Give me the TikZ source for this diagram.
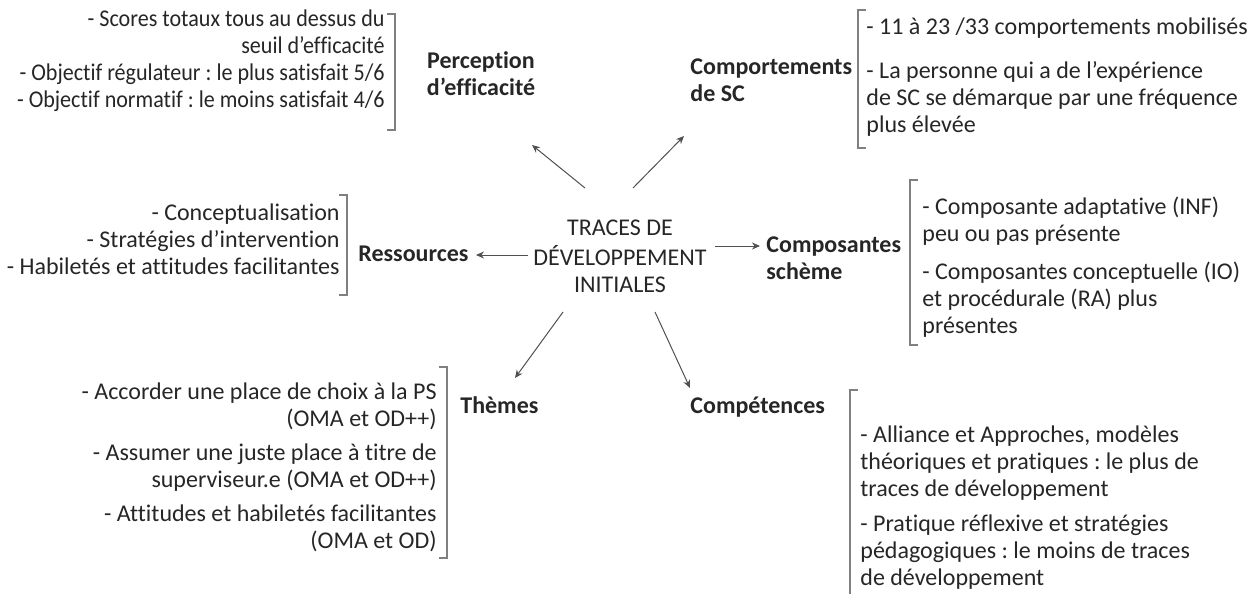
\documentclass[tikz,border=0pt]{standalone}
\usepackage{fontspec}
\setmainfont{Carlito}[Ligatures=NoCommon]
\usepackage{tikz}
\usetikzlibrary{arrows.meta, positioning, calc}
\usepackage{xcolor}
\definecolor{inkgray}{HTML}{262626}
\definecolor{linegray}{HTML}{505050}
\definecolor{bracketgray}{HTML}{808080}
\frenchspacing
\tikzset{
  txt/.style={inner sep=0pt, text=inkgray, font=\fontsize{12}{13.5}\selectfont},
  lbl/.style={txt, font=\fontsize{12}{13.5}\selectfont\bfseries},
  link/.style={draw=linegray, line width=0.5pt, -{Stealth[length=4pt,width=3.5pt]}},
  brk/.style={draw=bracketgray, line width=0.6pt},
}

\begin{document}
\begin{tikzpicture}[x=0.5pt, y=-0.5pt]
\useasboundingbox (0,0) rectangle (1260,594);

% centre
\node[txt, align=center, anchor=north] (centre) at (620,216) {\strut TRACES DE\\DÉVELOPPEMENT\\INITIALES};

% labels
\node[lbl, align=center, anchor=north] (perc) at (481,49) {\strut Perception\\d’efficacité};
\node[lbl, align=left, anchor=north west] (compo) at (690,55) {\strut Comportements\\de SC};
\node[lbl, anchor=base west] (ress) at (358,261) {Ressources};
\node[lbl, align=left, anchor=north west] (schem) at (766,233) {\strut Composantes\\schème};
\node[lbl, anchor=base west] (themes) at (460,413) {Thèmes};
\node[lbl, anchor=base west] (compet) at (690,413) {Compétences};

% details
\node[txt, align=right, anchor=north east, font=\fontsize{12}{13.5}\selectfont\addfontfeatures{FakeStretch=0.92}] (perc-txt) at (385,7) {\strut - Scores totaux tous au dessus du\\seuil d’efficacité\\- Objectif régulateur : le plus satisfait 5/6\\- Objectif normatif : le moins satisfait 4/6};
\node[txt, align=left, anchor=north west] (compo-txt) at (866,15) {\strut - 11 à 23 /33 comportements mobilisés\\[8.5pt]- La personne qui a de l’expérience\\de SC se démarque par une fréquence\\plus élevée};
\node[txt, align=right, anchor=north east] (ress-txt) at (340,201) {\strut - Conceptualisation\\- Stratégies d’intervention\\- Habiletés et attitudes facilitantes};
\node[txt, align=left, anchor=north west] (schem-txt) at (922,195) {\strut - Composante adaptative (INF)\\peu ou pas présente\\[5.5pt]- Composantes conceptuelle (IO)\\et procédurale (RA) plus\\présentes};
\node[txt, align=right, anchor=north east] (themes-txt) at (437,380) {\strut - Accorder une place de choix à la PS\\(OMA et OD++)\\[3.5pt]- Assumer une juste place à titre de\\superviseur.e (OMA et OD++)\\[3.5pt]- Attitudes et habiletés facilitantes\\(OMA et OD)};
\node[txt, align=left, anchor=north west] (compet-txt) at (860,423) {\strut - Alliance et Approches, modèles\\théoriques et pratiques : le plus de\\traces de développement\\[4pt]- Pratique réflexive et stratégies\\pédagogiques : le moins de traces\\de développement};

% brackets
\draw[brk] (387,14) -- (395,14) -- (395,130) -- (387,130);
\draw[brk] (866,10) -- (858,10) -- (858,148) -- (866,148);
\draw[brk] (339,195) -- (347,195) -- (347,295) -- (339,295);
\draw[brk] (918,180) -- (910,180) -- (910,345) -- (918,345);
\draw[brk] (439,367) -- (447,367) -- (447,558) -- (439,558);
\draw[brk] (858,390) -- (850,390) -- (850,594);

% arrows
\coordinate (from-perc) at (585,188);
\coordinate (to-perc) at (532,145);
\coordinate (from-compo) at (633,188);
\coordinate (to-compo) at (684,136);
\coordinate (from-ress) at (528,255);
\coordinate (to-ress) at (476,255);
\coordinate (from-schem) at (715,246);
\coordinate (to-schem) at (760,246);
\coordinate (from-themes) at (563,312);
\coordinate (to-themes) at (515,378);
\coordinate (from-compet) at (655,312);
\coordinate (to-compet) at (690,388);
\draw[link] (from-perc) -- (to-perc);
\draw[link] (from-compo) -- (to-compo);
\draw[link] (from-ress) -- (to-ress);
\draw[link] (from-schem) -- (to-schem);
\draw[link] (from-themes) -- (to-themes);
\draw[link] (from-compet) -- (to-compet);
\end{tikzpicture}
\end{document}
